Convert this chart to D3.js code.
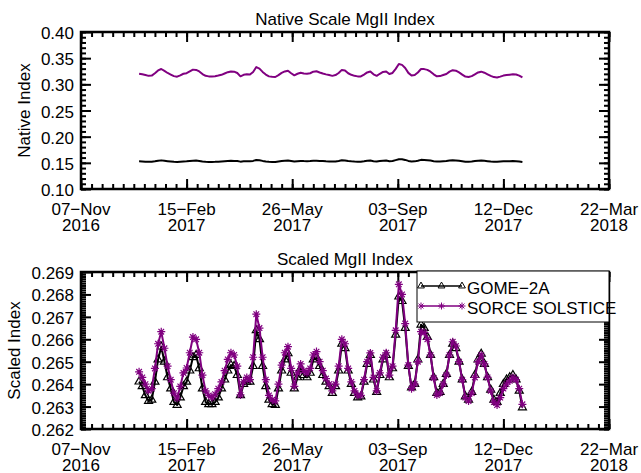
<!DOCTYPE html>
<html>
<head>
<meta charset="utf-8">
<script src="https://cdn.jsdelivr.net/npm/d3@7"></script>
<style>
body { margin: 0; background: #fff; }
text { font-family: "Liberation Sans", Arial, sans-serif; font-size: 17px; fill: #000; }
</style>
</head>
<body>
<svg id="chart" width="641" height="473"></svg>
<script>
// days since 01-Jan-2017 of each sample
const sampleDays = [
  0, 3, 6, 9, 12, 15, 18, 21, 24, 27,
  30, 33, 36, 39, 42, 45, 48, 51, 54, 57,
  60, 63, 66, 69, 72, 75, 78, 81, 84, 87,
  90, 93, 96, 99, 102, 105, 108, 111, 114, 117,
  120, 123, 126, 129, 132, 135, 138, 141, 144, 147,
  150, 153, 156, 159, 162, 165, 168, 171, 174, 177,
  180, 183, 186, 189, 192, 195, 198, 201, 204, 207,
  210, 213, 216, 219, 222, 225, 228, 231, 234, 237,
  240, 243, 246, 249, 252, 255, 258, 261, 264, 267,
  270, 273, 276, 279, 282, 285, 288, 291, 294, 297,
  300, 303, 306, 309, 312, 315, 318, 321, 324, 327,
  330, 333, 336, 339, 342, 345, 348, 351, 354, 357,
  360, 363
];

const gomeNative = [
  .1529, .1527, .1523, .1520, .1521, .1529, .1540, .1547, .1539, .1532,
  .1526, .1519, .1518, .1522, .1527, .1529, .1535, .1541, .1543, .1536,
  .1526, .1519, .1518, .1518, .1519, .1522, .1526, .1530, .1535, .1538,
  .1537, .1533, .1523, .1528, .1529, .1529, .1537, .1555, .1550, .1537,
  .1527, .1521, .1518, .1518, .1526, .1535, .1540, .1543, .1534, .1526,
  .1532, .1536, .1533, .1532, .1534, .1540, .1541, .1537, .1533, .1529,
  .1527, .1524, .1527, .1535, .1548, .1546, .1535, .1528, .1524, .1522,
  .1522, .1529, .1538, .1543, .1530, .1524, .1533, .1540, .1543, .1532,
  .1536, .1552, .1569, .1570, .1556, .1537, .1527, .1528, .1540, .1557,
  .1556, .1551, .1543, .1532, .1524, .1524, .1528, .1533, .1543, .1548,
  .1546, .1539, .1530, .1522, .1521, .1524, .1533, .1540, .1543, .1538,
  .1532, .1525, .1521, .1519, .1524, .1528, .1530, .1532, .1533, .1530,
  .1525, .1517
];

const sorceNative = [
  .3204, .3192, .3177, .3162, .3167, .3212, .3266, .3293, .3256, .3217,
  .3187, .3157, .3146, .3172, .3202, .3213, .3247, .3281, .3276, .3247,
  .3197, .3162, .3152, .3148, .3155, .3167, .3182, .3207, .3232, .3247,
  .3242, .3217, .3153, .3182, .3192, .3187, .3237, .3330, .3301, .3237,
  .3187, .3152, .3143, .3140, .3177, .3219, .3247, .3260, .3212, .3172,
  .3202, .3222, .3207, .3202, .3212, .3242, .3249, .3227, .3207, .3190,
  .3177, .3162, .3177, .3217, .3276, .3266, .3212, .3182, .3162, .3152,
  .3152, .3187, .3227, .3246, .3192, .3162, .3202, .3237, .3247, .3197,
  .3217, .3296, .3388, .3372, .3311, .3219, .3167, .3177, .3227, .3293,
  .3291, .3276, .3242, .3191, .3153, .3157, .3177, .3197, .3242, .3271,
  .3261, .3227, .3187, .3148, .3140, .3157, .3192, .3227, .3242, .3222,
  .3192, .3162, .3138, .3131, .3148, .3167, .3177, .3185, .3192, .3187,
  .3167, .3133
];

const gomeScaled = [
  .26411, .26390, .26350, .26325, .26330, .26410, .26510, .26567, .26500, .26430,
  .26380, .26320, .26307, .26340, .26390, .26410, .26460, .26520, .26530, .26470,
  .26380, .26320, .26310, .26310, .26320, .26340, .26380, .26420, .26460, .26485,
  .26480, .26440, .26350, .26400, .26410, .26410, .26480, .26640, .26600, .26480,
  .26390, .26330, .26310, .26307, .26380, .26460, .26510, .26537, .26450, .26380,
  .26430, .26470, .26440, .26430, .26450, .26510, .26520, .26480, .26440, .26410,
  .26390, .26360, .26390, .26460, .26580, .26560, .26460, .26400, .26360, .26340,
  .26345, .26410, .26490, .26530, .26420, .26365, .26440, .26510, .26530, .26430,
  .26470, .26620, .26790, .26770, .26650, .26480, .26385, .26400, .26510, .26665,
  .26650, .26610, .26530, .26430, .26360, .26365, .26400, .26445, .26530, .26580,
  .26560, .26500, .26420, .26345, .26330, .26365, .26440, .26510, .26535, .26490,
  .26430, .26375, .26330, .26320, .26360, .26400, .26420, .26430, .26440, .26420,
  .26370, .26296
];

const sorceScaled = [
  .26455, .26430, .26400, .26370, .26380, .26470, .26580, .26634, .26560, .26480,
  .26420, .26360, .26337, .26390, .26450, .26472, .26540, .26610, .26600, .26540,
  .26440, .26370, .26350, .26340, .26355, .26380, .26410, .26460, .26510, .26540,
  .26530, .26480, .26352, .26410, .26430, .26420, .26520, .26712, .26650, .26520,
  .26420, .26350, .26330, .26325, .26400, .26485, .26540, .26567, .26470, .26390,
  .26450, .26490, .26460, .26450, .26470, .26530, .26545, .26500, .26460, .26425,
  .26400, .26370, .26400, .26480, .26600, .26580, .26470, .26410, .26370, .26350,
  .26350, .26420, .26500, .26539, .26430, .26370, .26450, .26520, .26540, .26440,
  .26480, .26640, .26845, .26800, .26670, .26485, .26380, .26400, .26500, .26634,
  .26630, .26600, .26530, .26427, .26352, .26360, .26400, .26441, .26530, .26589,
  .26570, .26500, .26420, .26340, .26325, .26360, .26430, .26500, .26530, .26490,
  .26430, .26370, .26320, .26307, .26340, .26380, .26400, .26415, .26430, .26420,
  .26380, .26310
];

const seriesNames = ["GOME\u22122A", "SORCE SOLSTICE"];
const seriesColors = ["#000000", "#800080"];
const xTickDates = ["2016-11-07", "2017-02-15", "2017-05-26", "2017-09-03", "2017-12-12", "2018-03-22"];
const nativeTicks = [0.10, 0.15, 0.20, 0.25, 0.30, 0.35, 0.40];
const scaledTicks = [0.262, 0.263, 0.264, 0.265, 0.266, 0.267, 0.268, 0.269];

const svg = d3.select("#chart");
const start2017 = new Date(Date.UTC(2017, 0, 1));
const dates = sampleDays.map(d => d3.utcDay.offset(start2017, d));
const tickDates = xTickDates.map(s => new Date(s + "T00:00:00Z"));
const xMinor = d3.range(0, 501, 10).map(k => d3.utcDay.offset(tickDates[0], k));

const x = d3.scaleUtc()
    .domain([tickDates[0], tickDates[tickDates.length - 1]])
    .range([81, 609]);

const fmtDay = d3.utcFormat("%d\u2212%b");
const fmtYear = d3.utcFormat("%Y");

// asterisk like the IDL psym=2 symbol
function asterisk(r) {
    const a = r * 0.7;
    return `M${-r},0H${r}M0,${-r}V${r}M${-a},${-a}L${a},${a}M${-a},${a}L${a},${-a}`;
}
const triangle = d3.symbol(d3.symbolTriangle).size(28)();

function drawTicks(g, axis, transform, values, len) {
    g.append("g")
        .attr("transform", transform)
        .call(axis.tickValues(values).tickSize(-len).tickFormat(""))
        .call(a => a.select(".domain").remove())
        .selectAll("line")
        .attr("stroke", "#000")
        .attr("stroke-width", 2);
}

function drawPanel(p) {
    const y = d3.scaleLinear().domain([p.ticks[0], p.ticks[p.ticks.length - 1]]).range([p.bottom, p.top]);
    const g = svg.append("g");
    const yMinor = d3.range(p.ticks[0], p.ticks[p.ticks.length - 1] + p.minor / 2, p.minor);

    // ticks on all four sides, pointing inward
    [[xMinor, 5], [tickDates, 10]].forEach(([vals, len]) => {
        drawTicks(g, d3.axisBottom(x), `translate(0,${p.bottom})`, vals, len);
        drawTicks(g, d3.axisTop(x), `translate(0,${p.top})`, vals, len);
    });
    [[yMinor, 5], [p.ticks, 10]].forEach(([vals, len]) => {
        drawTicks(g, d3.axisLeft(y), `translate(${x.range()[0]},0)`, vals, len);
        drawTicks(g, d3.axisRight(y), `translate(${x.range()[1]},0)`, vals, len);
    });

    g.append("rect")
        .attr("x", x.range()[0])
        .attr("y", p.top)
        .attr("width", x.range()[1] - x.range()[0])
        .attr("height", p.bottom - p.top)
        .attr("fill", "none")
        .attr("stroke", "#000")
        .attr("stroke-width", 2.5);

    // tick labels
    g.selectAll(".ylab")
        .data(p.ticks)
        .enter()
        .append("text")
        .attr("x", 74)
        .attr("y", d => y(d) + 7)
        .attr("text-anchor", "end")
        .text(p.fmt);

    g.selectAll(".xday")
        .data(tickDates)
        .enter()
        .append("text")
        .attr("x", d => x(d))
        .attr("y", p.bottom + 26)
        .attr("text-anchor", "middle")
        .text(fmtDay);
    g.selectAll(".xyear")
        .data(tickDates)
        .enter()
        .append("text")
        .attr("x", d => x(d))
        .attr("y", p.bottom + 42)
        .attr("text-anchor", "middle")
        .text(fmtYear);

    g.append("text")
        .attr("x", (x.range()[0] + x.range()[1]) / 2)
        .attr("y", p.top - 7)
        .attr("text-anchor", "middle")
        .text(p.title);

    g.append("text")
        .attr("transform", `translate(${p.labelX},${(p.top + p.bottom) / 2}) rotate(-90)`)
        .attr("text-anchor", "middle")
        .text(p.yLabel);

    const line = d3.line()
        .x((d, i) => x(dates[i]))
        .y(d => y(d));

    p.series.forEach((vals, k) => {
        g.append("path")
            .datum(vals)
            .attr("fill", "none")
            .attr("stroke", seriesColors[k])
            .attr("stroke-width", 2)
            .attr("stroke-linejoin", "round")
            .attr("d", line);

        if (p.markers) {
            g.append("g")
                .selectAll("path")
                .data(vals)
                .enter()
                .append("path")
                .attr("transform", (d, i) => `translate(${x(dates[i])},${y(d)})`)
                .attr("d", k == 0 ? triangle : asterisk(4))
                .attr("fill", "none")
                .attr("stroke", seriesColors[k])
                .attr("stroke-width", 1.2);
        }
    });
}

drawPanel({
    title: "Native Scale MgII Index", yLabel: "Native Index", labelX: 30,
    top: 32, bottom: 189, ticks: nativeTicks, minor: 0.01, fmt: d3.format(".2f"),
    series: [gomeNative, sorceNative], markers: false
});
drawPanel({
    title: "Scaled MgII Index", yLabel: "Scaled Index", labelX: 20,
    top: 272, bottom: 429, ticks: scaledTicks, minor: 0.0001, fmt: d3.format(".3f"),
    series: [gomeScaled, sorceScaled], markers: true
});

// legend for the lower panel
const legend = svg.append("g");
legend.append("rect")
    .attr("x", 417).attr("y", 271)
    .attr("width", 192).attr("height", 51)
    .attr("fill", "#fff")
    .attr("stroke", "#000")
    .attr("stroke-width", 1);

seriesNames.forEach((name, k) => {
    const ly = 286 + k * 20;
    legend.append("line")
        .attr("x1", 421).attr("x2", 462)
        .attr("y1", ly).attr("y2", ly)
        .attr("stroke", seriesColors[k])
        .attr("stroke-width", 1.5);
    [421, 441.5, 462].forEach(mx => {
        legend.append("path")
            .attr("transform", `translate(${mx},${ly})`)
            .attr("d", k == 0 ? d3.symbol(d3.symbolTriangle).size(20)() : asterisk(3.5))
            .attr("fill", "none")
            .attr("stroke", seriesColors[k])
            .attr("stroke-width", 1);
    });
    legend.append("text")
        .attr("x", 467)
        .attr("y", ly + 8)
        .text(name);
});
</script>
</body>
</html>
